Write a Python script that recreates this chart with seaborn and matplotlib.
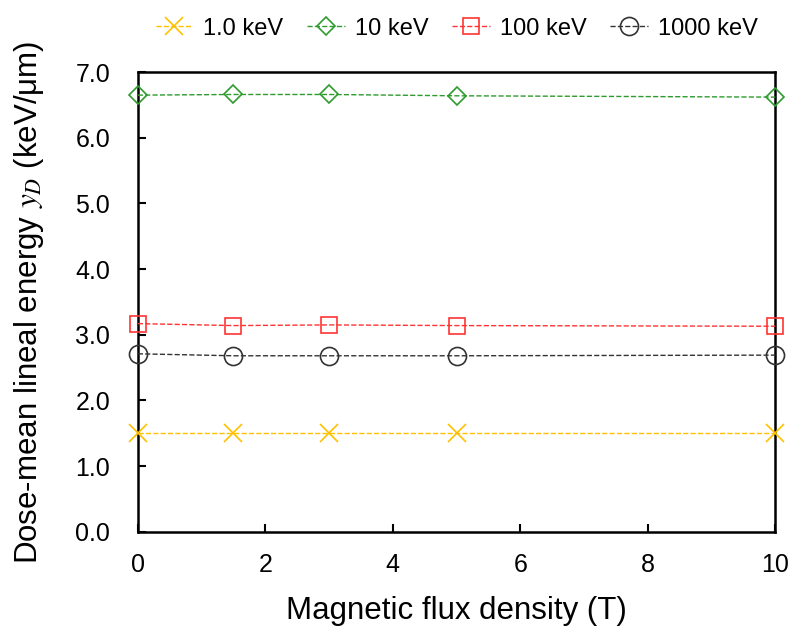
import matplotlib
matplotlib.use("Agg")
import matplotlib.pyplot as plt
import seaborn as sns
import pandas as pd

field_T = [0, 1.5, 3, 5, 10]
series_labels = ["1.0 keV", "10 keV", "100 keV", "1000 keV"]
yd_1keV = [1.51, 1.51, 1.51, 1.51, 1.51]
yd_10keV = [6.65, 6.66, 6.66, 6.64, 6.62]
yd_100keV = [3.17, 3.14, 3.15, 3.14, 3.13]
yd_1000keV = [2.71, 2.68, 2.68, 2.68, 2.69]
y_ticks = [0.0, 1.0, 2.0, 3.0, 4.0, 5.0, 6.0, 7.0]
x_ticks = [0, 2, 4, 6, 8, 10]

sns.set_theme(style="ticks")
plt.rcParams["font.family"] = ["Liberation Sans", "DejaVu Sans"]
plt.rcParams["mathtext.fontset"] = "stix"
for key in ("text.color", "axes.labelcolor", "xtick.color", "ytick.color"):
    plt.rcParams[key] = "black"

df = pd.DataFrame({
    "B": field_T * 4,
    "yD": yd_1keV + yd_10keV + yd_100keV + yd_1000keV,
    "energy": [lab for lab in series_labels for _ in field_T],
})

colors = ["#FFC000", "#2E9B2E", "#FF3333", "#333333"]
markers = ["x", "D", "s", "o"]
msizes = [13, 9.5, 11.5, 13]

fig, ax = plt.subplots(figsize=(7.92, 6.33), dpi=100)
fig.subplots_adjust(left=0.174, right=0.979, top=0.886, bottom=0.16)

for lab, c, m, ms in zip(series_labels, colors, markers, msizes):
    sub = df[df["energy"] == lab]
    sns.lineplot(data=sub, x="B", y="yD", ax=ax, color=c, linestyle="--",
                 linewidth=1.0, marker=m, markersize=ms,
                 markerfacecolor="none", markeredgecolor=c, markeredgewidth=1.2,
                 label=lab, clip_on=False, zorder=3)

ax.set_xlim(0, 10)
ax.set_ylim(0, 7)
ax.set_xticks(x_ticks)
ax.set_yticks(y_ticks)
ax.set_yticklabels([f"{v:.1f}" for v in y_ticks])
ax.tick_params(direction="in", length=6, width=1.5, labelsize=18)
ax.tick_params(axis="x", pad=15)
ax.tick_params(axis="y", pad=20)
for s in ax.spines.values():
    s.set_linewidth(1.8)
    s.set_color("black")

ax.set_xlabel("Magnetic flux density (T)", fontsize=22.5, labelpad=14)
ax.set_ylabel("Dose-mean lineal energy $y_D$ (keV/μm)", fontsize=22.5, labelpad=21)

ax.legend(loc="lower center", bbox_to_anchor=(0.5, 1.04), ncol=4, frameon=False,
          fontsize=17, handlelength=1.6, columnspacing=1.0, handletextpad=0.42,
          borderaxespad=0.2)

fig.savefig("out.png", dpi=100)
